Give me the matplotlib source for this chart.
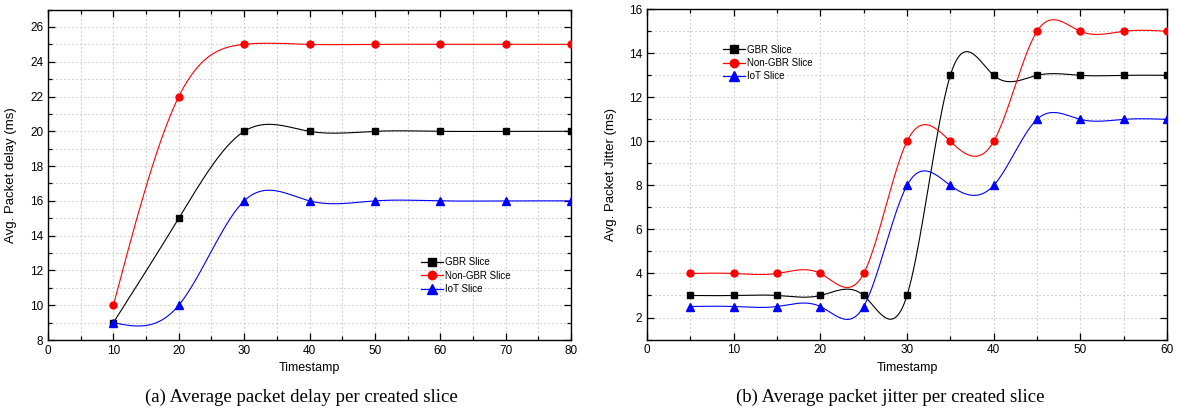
import numpy as np
import matplotlib
matplotlib.use('Agg')
from matplotlib import pyplot as plt
from matplotlib.ticker import MultipleLocator

# dados (a) atraso medio
ts_a = [10, 20, 30, 40, 50, 60, 70, 80]
gbr_a = [9, 15, 20, 20, 20, 20, 20, 20]
ngbr_a = [10, 22, 25, 25, 25, 25, 25, 25]
iot_a = [9, 10, 16, 16, 16, 16, 16, 16]

# dados (b) jitter medio
ts_b = [5, 10, 15, 20, 25, 30, 35, 40, 45, 50, 55, 60]
gbr_b = [3, 3, 3, 3, 3, 3, 13, 13, 13, 13, 13, 13]
ngbr_b = [4, 4, 4, 4, 4, 10, 10, 10, 15, 15, 15, 15]
iot_b = [2.5, 2.5, 2.5, 2.5, 2.5, 8, 8, 8, 11, 11, 11, 11]

labels = ['GBR Slice', 'Non-GBR Slice', 'IoT Slice']
cores = ['black', 'red', 'blue']
marcas = ['s', 'o', '^']
tam = [5.0, 5.0, 5.5]


def spline(x, y, n=600):
    # spline cubica natural (so para desenhar a curva suave entre os pontos)
    x = np.asarray(x, float)
    y = np.asarray(y, float)
    h = np.diff(x)
    m = len(x)
    A = np.zeros((m, m))
    b = np.zeros(m)
    A[0, 0] = A[-1, -1] = 1
    for i in range(1, m - 1):
        A[i, i - 1] = h[i - 1]
        A[i, i] = 2 * (h[i - 1] + h[i])
        A[i, i + 1] = h[i]
        b[i] = 6 * ((y[i + 1] - y[i]) / h[i] - (y[i] - y[i - 1]) / h[i - 1])
    M = np.linalg.solve(A, b)
    xs = np.linspace(x[0], x[-1], n)
    k = np.clip(np.searchsorted(x, xs) - 1, 0, m - 2)
    t1 = x[k + 1] - xs
    t0 = xs - x[k]
    hk = h[k]
    ys = (M[k] * t1 ** 3 / (6 * hk) + M[k + 1] * t0 ** 3 / (6 * hk)
          + (y[k] / hk - M[k] * hk / 6) * t1 + (y[k + 1] / hk - M[k + 1] * hk / 6) * t0)
    return xs, ys


def desenha(ax, x, series):
    for s, c, mk, ms, lb in zip(series, cores, marcas, tam, labels):
        xs, ys = spline(x, s)
        ax.plot(xs, ys, color=c, lw=0.8, zorder=3)
        ax.plot(x, s, linestyle='none', marker=mk, color=c, ms=ms, zorder=4)
        # so para a legenda
        ax.plot([], [], color=c, lw=0.9, marker=mk, ms=ms + 1, label=lb)


def estilo(ax):
    ax.xaxis.set_minor_locator(MultipleLocator(5))
    ax.yaxis.set_major_locator(MultipleLocator(2))
    ax.yaxis.set_minor_locator(MultipleLocator(1))
    ax.grid(True, which='both', color='#c0c0c0', linestyle=(0, (1.2, 2.4)), lw=0.8)
    ax.set_axisbelow(True)
    ax.tick_params(which='both', direction='in', top=True, right=True, labelsize=8.5, width=0.9)
    ax.tick_params(which='major', length=5)
    ax.tick_params(which='minor', length=3)
    for sp in ax.spines.values():
        sp.set_linewidth(1.0)
    ax.set_xlabel('Timestamp', fontsize=9)
    ax.xaxis.set_label_coords(0.5, -0.068)


plt.rcParams['font.family'] = ['Liberation Sans', 'DejaVu Sans']

fig = plt.figure(figsize=(11.77, 4.11), dpi=100)
ax1 = fig.add_axes([0.0408, 0.1727, 0.4444, 0.804])
ax2 = fig.add_axes([0.5497, 0.1739, 0.4418, 0.8035])

desenha(ax1, ts_a, [gbr_a, ngbr_a, iot_a])
estilo(ax1)
ax1.set_xlim(0, 80)
ax1.set_ylim(8, 27)
ax1.set_ylabel('Avg. Packet delay (ms)', fontsize=9.5)
ax1.yaxis.set_label_coords(-0.059, 0.5)
ax1.legend(loc='upper left', bbox_to_anchor=(0.713, 0.25), frameon=False, fontsize=7,
           handlelength=2.3, handletextpad=0.15, labelspacing=0.35, borderpad=0, borderaxespad=0)

desenha(ax2, ts_b, [gbr_b, ngbr_b, iot_b])
estilo(ax2)
ax2.set_xlim(0, 60)
ax2.set_ylim(1, 16)
ax2.set_ylabel('Avg. Packet Jitter (ms)', fontsize=9.5)
ax2.yaxis.set_label_coords(-0.058, 0.5)
ax2.legend(loc='upper left', bbox_to_anchor=(0.146, 0.893), frameon=False, fontsize=7,
           handlelength=2.3, handletextpad=0.15, labelspacing=0.35, borderpad=0, borderaxespad=0)

fig.text(0.256, 0.034, '(a) Average packet delay per created slice', ha='center', va='center',
         fontsize=13.5, family='Liberation Serif')
fig.text(0.756, 0.034, '(b) Average packet jitter per created slice', ha='center', va='center',
         fontsize=13.5, family='Liberation Serif')

fig.savefig('out.png', dpi=100)
